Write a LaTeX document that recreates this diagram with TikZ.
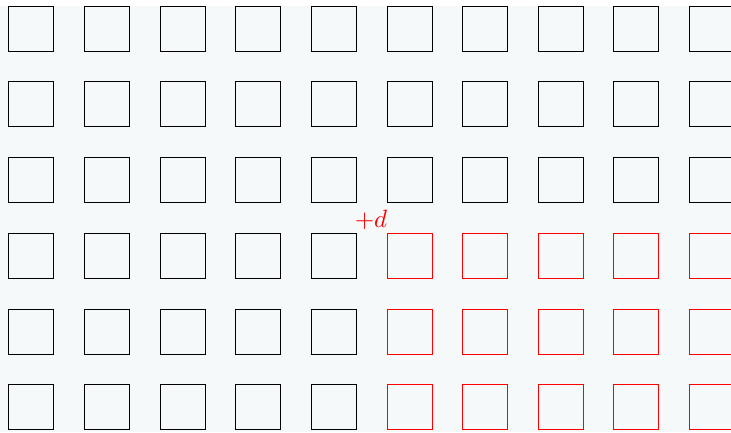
\documentclass[tikz,border=0pt]{standalone}
\definecolor{bgc}{RGB}{245,249,250}
\begin{document}
\begin{tikzpicture}[x=1pt,y=-1pt,
  sq/.style={draw=black,line width=1pt,minimum size=45pt,inner sep=0pt,anchor=north west,fill=none},
  sqred/.style={sq,draw=red},
  lbl/.style={text=red,inner sep=0pt,anchor=base}]
\useasboundingbox (0,0) rectangle (731,432);
\clip (0,0) rectangle (731,432);
\fill[bgc] (0,6) rectangle (731,432);
\foreach \xx [count=\i from 0] in {8,84,160,235,311,387,462,538,613,689}{
  \foreach \yy [count=\j from 0] in {6,81,157,233,309,384}{
    \pgfmathtruncatemacro{\isred}{(\i>4)&&(\j>2)}
    \ifnum\isred=1
      \node[sqred] (s-\i-\j) at (\xx,\yy) {};
    \else
      \node[sq] (s-\i-\j) at (\xx,\yy) {};
    \fi
  }
}
\node[lbl] (d) at (371,227.5) {\scalebox{2.5}{$+d$}};
\end{tikzpicture}
\end{document}
